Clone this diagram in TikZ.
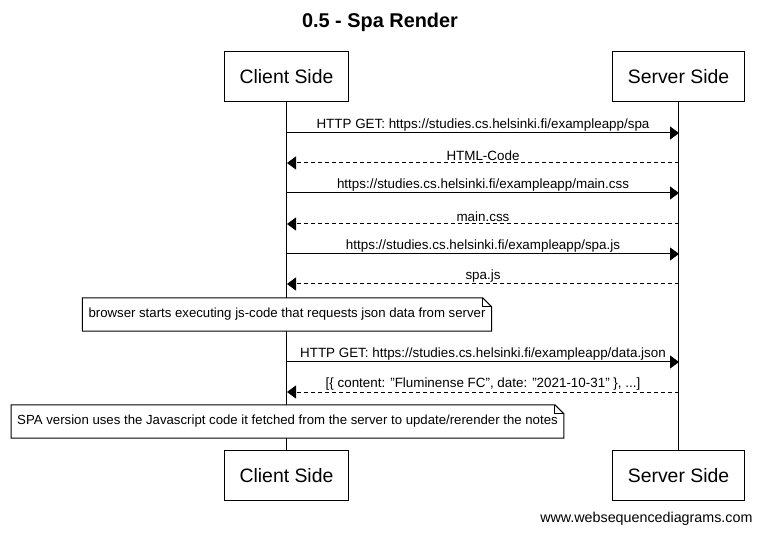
\documentclass[tikz,border=0pt]{standalone}
\usepackage{fontspec}
\setmainfont{Liberation Sans}
\usetikzlibrary{arrows.meta,positioning}

\tikzset{
  actor/.style={draw, line width=1pt, fill=white, inner xsep=15pt, minimum height=50pt, font=\fontsize{19.4}{22}\selectfont},
  msg/.style={line width=1pt, -{Triangle[length=9pt,width=13pt]}},
  reply/.style={msg, dash pattern=on 4pt off 3pt},
  lbl/.style={above, inner sep=1.5pt, font=\fontsize{13.4}{15}\selectfont},
  note/.style={inner xsep=6pt, minimum height=33pt, font=\fontsize{13.2}{15}\selectfont}
}
\newcommand{\dogear}[1]{%
  \draw[line width=1pt, fill=white] (#1.south west) -- (#1.north west) -- ([xshift=-9pt]#1.north east)
     -- ([yshift=-9pt]#1.north east) -- (#1.south east) -- cycle;
  \draw[line width=1pt] ([xshift=-9pt]#1.north east) |- ([yshift=-9pt]#1.north east);
}
\newcommand{\qt}{\symbol{34}}

\begin{document}
\begin{tikzpicture}[x=1pt, y=-1pt]
  \fill[white] (0,0) rectangle (760,534);
  \useasboundingbox (0,0) rectangle (760,534);

  \node [font=\fontsize{19.9}{22}\selectfont\bfseries] (title) at (380,22) {0.5 - Spa Render};

  \node [actor] (clientTop) at (286.5,77) {Client Side};
  \node [actor] (serverTop) at (678.5,77) {Server Side};
  \node [actor] (clientBot) at (286.5,475.5) {Client Side};
  \node [actor] (serverBot) at (678.5,475.5) {Server Side};

  \draw[line width=1pt] (clientTop.south) -- (clientBot.north);
  \draw[line width=1pt] (serverTop.south) -- (serverBot.north);

  \coordinate (c1) at (287,133); \coordinate (s1) at (679,133);
  \coordinate (c2) at (287,163); \coordinate (s2) at (679,163);
  \coordinate (c3) at (287,193); \coordinate (s3) at (679,193);
  \coordinate (c4) at (287,224); \coordinate (s4) at (679,224);
  \coordinate (c5) at (287,254); \coordinate (s5) at (679,254);
  \coordinate (c6) at (287,284); \coordinate (s6) at (679,284);
  \coordinate (c7) at (287,362); \coordinate (s7) at (679,362);
  \coordinate (c8) at (287,392); \coordinate (s8) at (679,392);

  \draw[msg] (c1) -- node [lbl] {HTTP GET: https://studies.cs.helsinki.fi/exampleapp/spa} (s1);
  \draw[reply] (s2) -- node [lbl] {HTML-Code} (c2);
  \draw[msg] (c3) -- node [lbl] {https://studies.cs.helsinki.fi/exampleapp/main.css} (s3);
  \draw[reply] (s4) -- node [lbl] {main.css} (c4);
  \draw[msg] (c5) -- node [lbl] {https://studies.cs.helsinki.fi/exampleapp/spa.js} (s5);
  \draw[reply] (s6) -- node [lbl] {spa.js} (c6);
  \draw[msg] (c7) -- node [lbl] {HTTP GET: https://studies.cs.helsinki.fi/exampleapp/data.json} (s7);
  \draw[reply] (s8) -- node [lbl] {[\{ content: \qt Fluminense FC\qt, date: \qt 2021-10-31\qt{} \}, ...]} (c8);

  % notes over the client lifeline
  \node [note] (noteJs) at (287,314.5) {\phantom{browser starts executing js-code that requests json data from server}};
  \dogear{noteJs}
  \node [note] at (noteJs) {browser starts executing js-code that requests json data from server};

  \node [note] (noteSpa) at (287.5,421.5) {\phantom{SPA version uses the Javascript code it fetched from the server to update/rerender the notes}};
  \dogear{noteSpa}
  \node [note] at (noteSpa) {SPA version uses the Javascript code it fetched from the server to update/rerender the notes};

  \node [anchor=east, font=\fontsize{14.3}{16}\selectfont] (footer) at (756,519) {www.websequencediagrams.com};
\end{tikzpicture}
\end{document}
